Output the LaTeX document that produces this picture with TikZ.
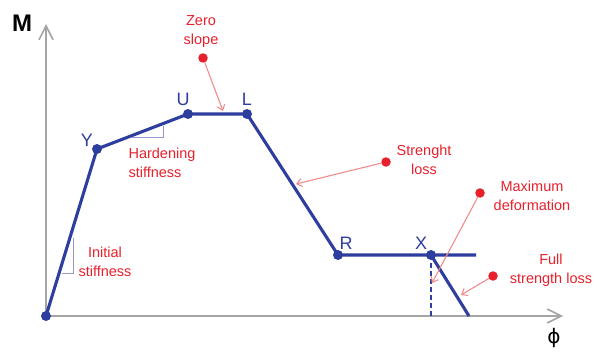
\documentclass[tikz,border=0pt]{standalone}
\usepackage{fontspec}
\setmainfont{Liberation Sans}
\newfontfamily\phifont{DejaVu Sans}
\usetikzlibrary{arrows.meta, positioning}

\definecolor{curveblue}{RGB}{46,62,158}
\definecolor{annred}{RGB}{232,32,44}
\definecolor{annpink}{RGB}{242,140,140}
\definecolor{triblue}{RGB}{150,150,205}
\definecolor{axgray}{RGB}{165,165,165}

\begin{document}
\begin{tikzpicture}[
  x=1pt, y=-1pt,
  curve/.style={draw=curveblue, line width=3.1pt, line join=round},
  axis/.style={draw=axgray, line width=1.6pt,
    -{Straight Barb[length=14pt, width=14pt]}},
  ptdot/.style={circle, fill=curveblue, inner sep=0pt, minimum size=10pt},
  ptlab/.style={text=curveblue, inner sep=0pt, font=\fontsize{18}{20}\selectfont},
  annodot/.style={circle, fill=annred, inner sep=0pt, minimum size=9.5pt},
  annotxt/.style={text=annred, inner sep=0pt, align=center,
    font=\fontsize{14.5}{19}\selectfont},
  annarr/.style={draw=annpink, line width=1.1pt,
    -{Straight Barb[length=5pt, width=8pt]}},
  stifftri/.style={draw=triblue, line width=1pt}
]
\useasboundingbox (0,0) rectangle (597,353);

% axes
\coordinate (O) at (46,316);
\coordinate (ytip) at (46,24);
\coordinate (xtip) at (563,316);
\draw[axis] (O) -- (ytip);
\draw[axis] (O) -- (xtip);
\node[inner sep=0pt, font=\fontsize{24}{26}\selectfont\bfseries] (Mlab) at (22,23) {M};
\node[inner sep=0pt, font=\phifont\fontsize{20}{22}\selectfont] (philab) at (554,338) {ϕ};

% backbone points
\node[ptdot] (Y) at (97,149) {};
\node[ptdot] (U) at (188,114) {};
\node[ptdot] (L) at (247,114) {};
\node[ptdot] (R) at (338,255) {};
\node[ptdot] (X) at (431,255) {};
\coordinate (Rend) at (476,255);
\coordinate (Xend) at (469,316);
\coordinate (Xfoot) at (431,316);

\draw[curve] (O) -- (Y.center) -- (U.center) -- (L.center) -- (R.center) -- (Rend);
\draw[curve] (X.center) -- (Xend);
\draw[curve, line width=2.4pt, dash pattern=on 5pt off 3pt] (X.center) -- (Xfoot);
\fill[curveblue] (O) circle (5pt);

\node[ptlab] (Ylab) at (87,140) {Y};
\node[ptlab] (Ulab) at (183,99) {U};
\node[ptlab] (Llab) at (247,99) {L};
\node[ptlab] (Rlab) at (346,243) {R};
\node[ptlab] (Xlab) at (421,243) {X};

% stiffness triangles
\draw[stifftri] (62,273) -- (73,273) -- (73,238);
\draw[stifftri] (132,137) -- (163,137) -- (163,126);
\node[annotxt] (inistiff) at (105,262) {Initial\\stiffness};
\node[annotxt, align=left] (hardstiff) at (162,163) {Hardening\\stiffness};

% annotations
\node[annotxt] (zerotxt) at (201,32) {Zero\\slope};
\node[annodot] (zerodot) at (203,58) {};
\coordinate (zerotip) at (223,111);
\draw[annarr] (zerodot) -- (zerotip);

\node[annotxt] (losstxt) at (424,160) {Strenght\\loss};
\node[annodot] (lossdot) at (386,162) {};
\coordinate (losstip) at (296,184);
\draw[annarr] (lossdot) -- (losstip);

\node[annotxt] (maxtxt) at (532,196) {Maximum\\deformation};
\node[annodot] (maxdot) at (480,193) {};
\coordinate (maxtip) at (432,283);
\draw[annarr] (maxdot) -- (maxtip);

\node[annotxt] (fulltxt) at (551,270) {Full\\strength loss};
\node[annodot] (fulldot) at (493,276) {};
\coordinate (fulltip) at (461,295);
\draw[annarr] (fulldot) -- (fulltip);

\end{tikzpicture}
\end{document}
